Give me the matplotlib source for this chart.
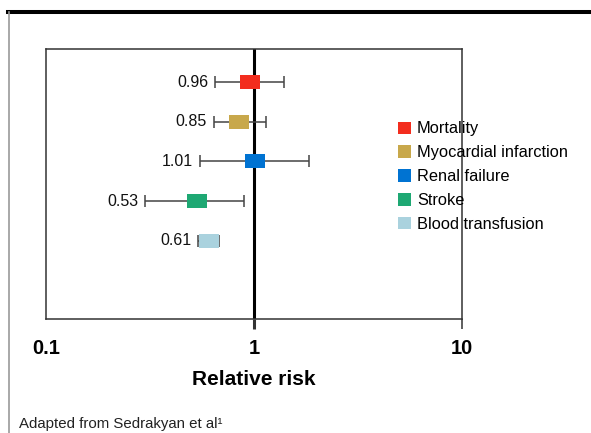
import matplotlib.pyplot as plt
import numpy as np
from matplotlib.lines import Line2D
from matplotlib.patches import Patch

plt.rcParams["font.family"] = ["Liberation Sans", "DejaVu Sans"]

outcomes = ["Mortality", "Myocardial infarction", "Renal failure", "Stroke", "Blood transfusion"]
rr = [0.96, 0.85, 1.01, 0.53, 0.61]
ci_low = [0.65, 0.64, 0.55, 0.30, 0.54]
ci_high = [1.40, 1.14, 1.83, 0.90, 0.68]
colors = ["#F32D1E", "#C8A84B", "#0073D2", "#1EA873", "#AAD2DE"]
tick_vals = [0.1, 1, 10]
tick_labels = ["0.1", "1", "10"]

fig = plt.figure(figsize=(5.91, 4.33), dpi=100)
ax = fig.add_axes([0.0778, 0.2633, 0.7039, 0.6236])

y = np.arange(len(outcomes))
rr = np.array(rr)
lo = np.array(ci_low)
hi = np.array(ci_high)

# rectangular marker, wider than tall
box = [(-1, -0.74), (1, -0.74), (1, 0.74), (-1, 0.74), (-1, -0.74)]

ax.axvline(1, color="black", lw=2.2, zorder=2)
for i in range(len(outcomes)):
    ax.errorbar(rr[i], y[i], xerr=[[rr[i] - lo[i]], [hi[i] - rr[i]]], fmt="none",
                ecolor="#444444", elinewidth=1.1, capsize=4, capthick=1.1, zorder=3)
    ax.plot(rr[i], y[i], marker=box, markersize=13.7, color=colors[i],
            markeredgewidth=0, linestyle="none", zorder=4)
    ax.annotate(f"{rr[i]:.2f}", (lo[i], y[i]), xytext=(-5, 0), textcoords="offset points",
                ha="right", va="center", fontsize=11.5, color="#111111")

ax.set_xscale("log")
ax.set_xlim(0.1, 10)
ax.set_ylim(4 + 1.975, -0.835)
ax.set_yticks([])
ax.set_xticks(tick_vals)
ax.set_xticklabels(tick_labels, fontsize=14.5, fontweight="bold")
ax.minorticks_off()
ax.tick_params(axis="x", direction="out", length=7.2, width=1.1, pad=7, color="#333333")
ticks = ax.xaxis.get_major_ticks()
ticks[0].tick1line.set_visible(False)
ticks[1].tick1line.set_markeredgewidth(2.2)
ticks[1].tick1line.set_color("black")
for s in ax.spines.values():
    s.set_color("#333333")
    s.set_linewidth(1.1)
ax.set_xlabel("Relative risk", fontsize=15, fontweight="bold", labelpad=9)

handles = [Patch(facecolor=c, edgecolor="none") for c in colors]
fig.legend(handles, outcomes, loc="upper left", bbox_to_anchor=(398 / 591, 1 - 121.5 / 433),
           frameon=False, fontsize=11.8, handlelength=0.8, handleheight=0.8,
           handletextpad=0.35, labelspacing=0.54, borderpad=0, borderaxespad=0)

fig.text(19 / 591, 1 - 428 / 433, "Adapted from Sedrakyan et al\u00b9", fontsize=10.8,
         va="baseline", ha="left", color="#222222")

# page decorations: thick rule at top and gray margin line
fig.add_artist(Line2D([8 / 591, 1], [1 - 12 / 433, 1 - 12 / 433], color="black", lw=2.9,
                      transform=fig.transFigure))
fig.add_artist(Line2D([8.5 / 591, 8.5 / 591], [0, 1 - 12 / 433], color="#999999", lw=1.2,
                      transform=fig.transFigure))

fig.savefig("out.png", dpi=100)
